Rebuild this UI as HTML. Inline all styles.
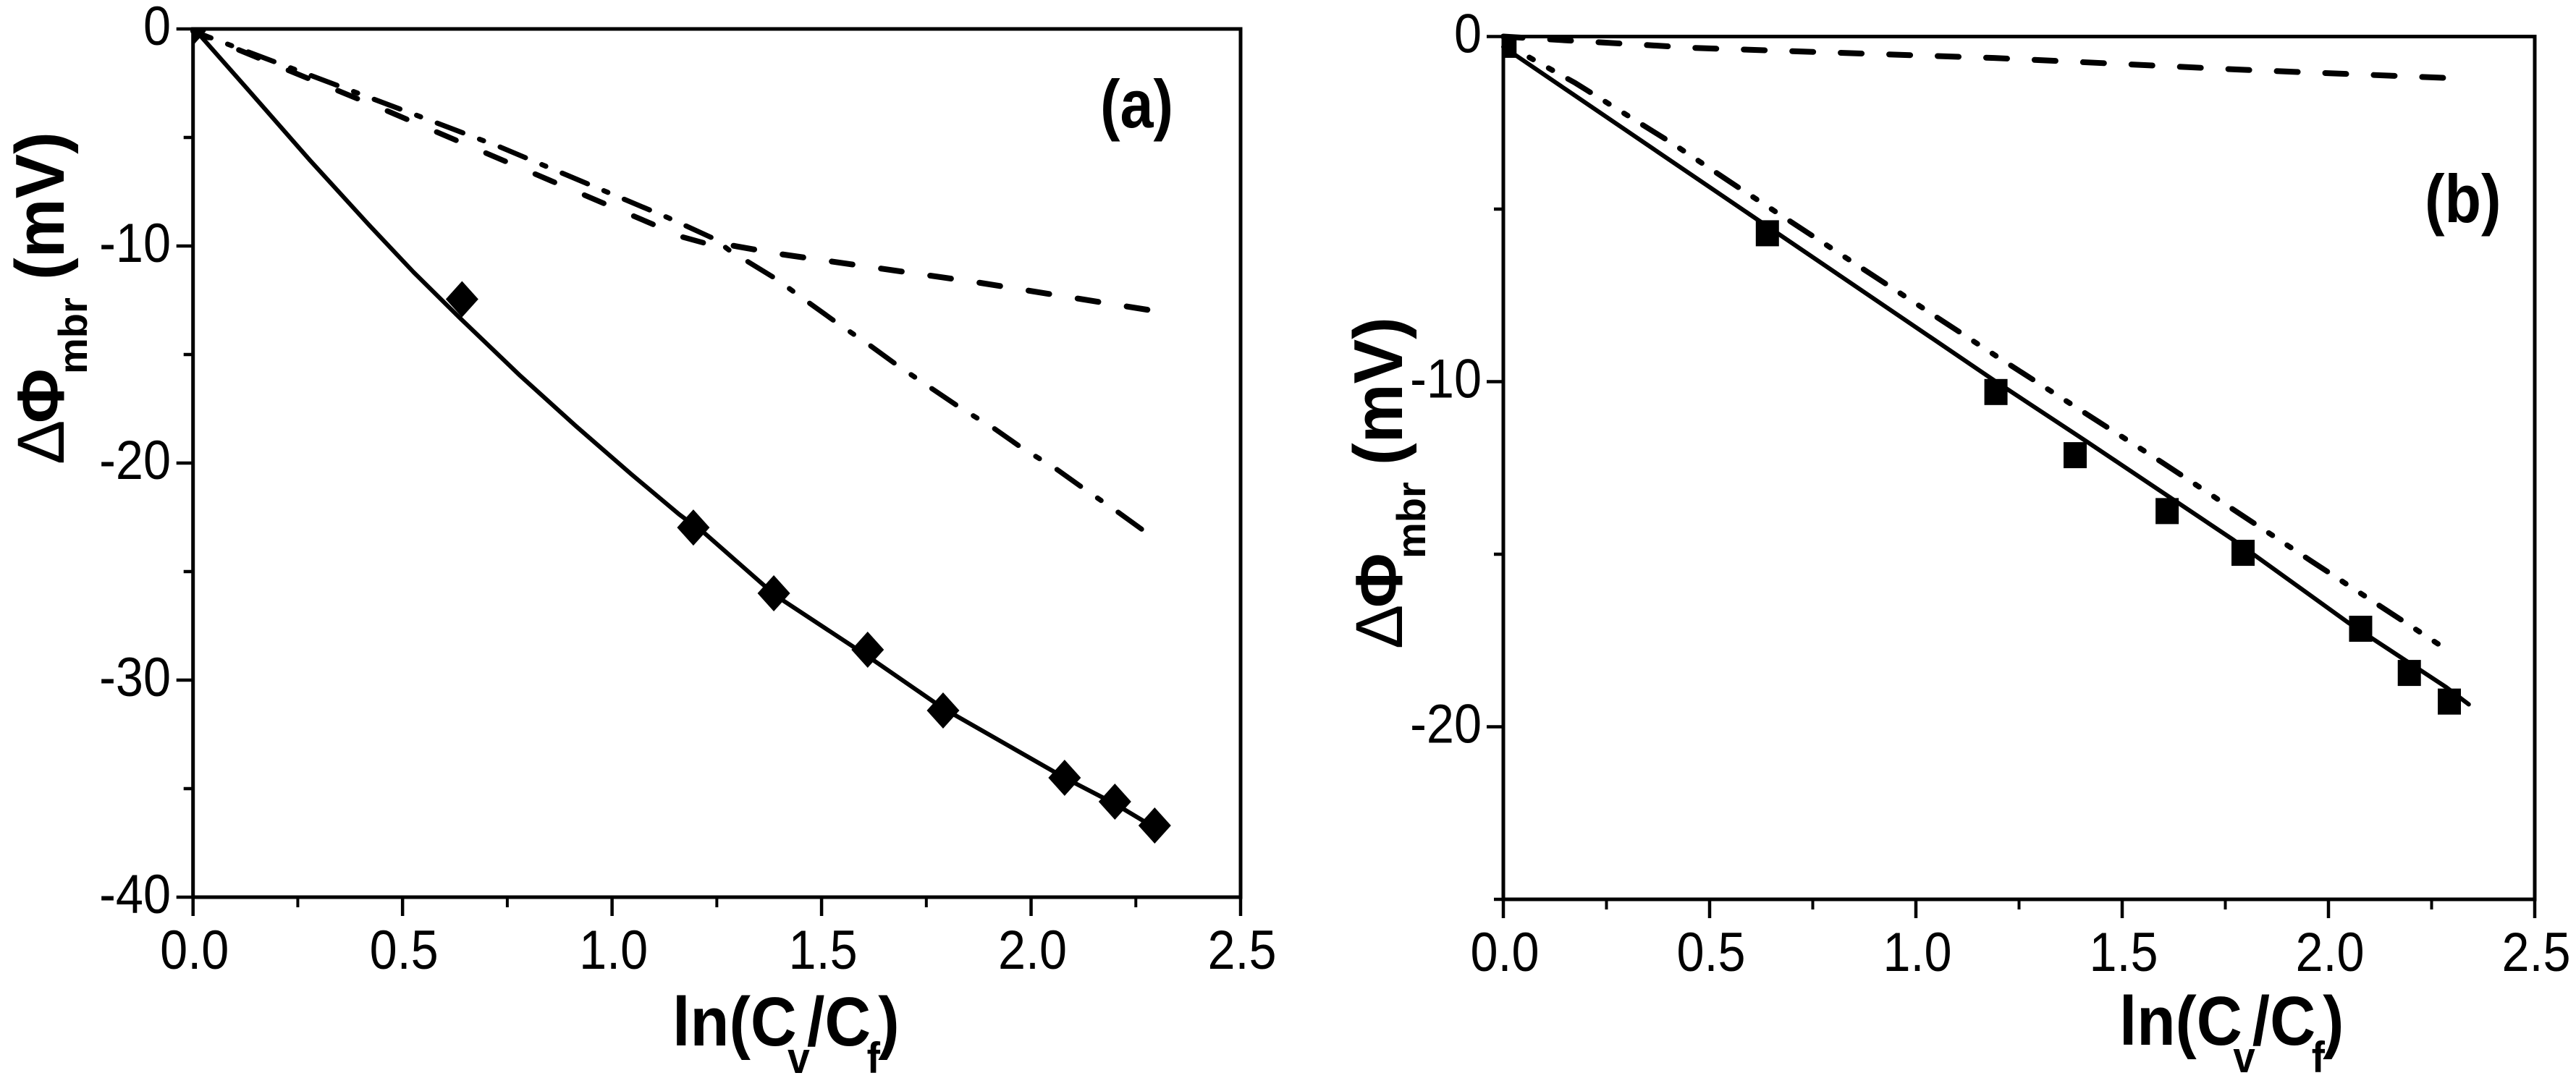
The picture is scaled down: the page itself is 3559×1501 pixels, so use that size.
<!DOCTYPE html>
<html>
<head>
<meta charset="utf-8">
<title>Membrane potential charts</title>
<style>
html,body{margin:0;padding:0;background:#fff;width:3559px;height:1501px;overflow:hidden}
svg{display:block}
text{font-family:"Liberation Sans",Arial,sans-serif;fill:#000}
</style>
</head>
<body>
<svg id="figure" xmlns="http://www.w3.org/2000/svg" width="3559" height="1501" viewBox="0 0 3559 1501">
  <rect width="3559" height="1501" fill="#fff"/>
  <g id="panel-a"></g>
  <g id="panel-b"></g>

  <text transform="translate(929,1445) scale(0.92,1)" font-size="96" font-weight="bold">ln(C<tspan font-size="60" x="173" dy="38">v</tspan><tspan x="202" dy="-38">/C</tspan><tspan font-size="60" x="292" dy="38">f</tspan><tspan x="309" dy="-38">)</tspan></text>
  <g>
    <text transform="translate(88,642) rotate(-90)" font-size="92">Δ</text>
    <text transform="translate(88,585) rotate(-90)" font-size="92" font-weight="bold">Φ</text>
    <text transform="translate(120,517) rotate(-90)" font-size="56" font-weight="bold">mbr</text>
    <text transform="translate(88,387) rotate(-90) scale(0.96,1)" font-size="96" font-weight="bold">(mV)</text>
  </g>
  <text transform="translate(1520,176) scale(0.88,1)" font-size="94" font-weight="bold">(a)</text>

  <text transform="translate(2928,1444) scale(0.91,1)" font-size="96" font-weight="bold">ln(C<tspan font-size="60" x="173" dy="38">v</tspan><tspan x="202" dy="-38">/C</tspan><tspan font-size="60" x="292" dy="38">f</tspan><tspan x="309" dy="-38">)</tspan></text>
  <g>
    <text transform="translate(1937,897) rotate(-90)" font-size="92">Δ</text>
    <text transform="translate(1937,840) rotate(-90)" font-size="92" font-weight="bold">Φ</text>
    <text transform="translate(1969,772) rotate(-90)" font-size="56" font-weight="bold">mbr</text>
    <text transform="translate(1937,643) rotate(-90) scale(0.96,1)" font-size="96" font-weight="bold">(mV)</text>
  </g>
  <text transform="translate(3350,307) scale(0.88,1)" font-size="94" font-weight="bold">(b)</text>
</svg>
<script>
const xTickValues = [0, 0.5, 1, 1.5, 2, 2.5];
const xTickLabels = ['0.0', '0.5', '1.0', '1.5', '2.0', '2.5'];
const xMinorValues = [0.25, 0.75, 1.25, 1.75, 2.25];

const aYTickValues = [0, -10, -20, -30, -40];
const aYTickLabels = ['0', '-10', '-20', '-30', '-40'];
const aYMinorValues = [-5, -15, -25, -35];
const aPointX = [-0.008, 0.642, 1.194, 1.386, 1.61, 1.79, 2.08, 2.2, 2.295];
const aPointY = [-0.1, -12.45, -22.97, -26, -28.6, -31.4, -34.5, -35.6, -36.7];
const aSolidX = [0.017, 0.129, 0.279, 0.42, 0.526, 0.636, 0.781, 0.914, 1.045, 1.16, 1.222, 1.39, 1.61, 1.79, 2.08, 2.2, 2.295];
const aSolidY = [-0.3, -2.75, -6.05, -9.03, -11.2, -13.3, -15.98, -18.3, -20.5, -22.36, -23.25, -26.1, -28.9, -31.3, -34.5, -35.7, -36.8];
const aDashDotHeadX = [0, 0.5435, 0.733, 1.134, 1.244, 1.28];
const aDashDotHeadY = [-0.1, -4.05, -5.44, -8.7, -9.67, -10.2];
const aDashDotTailX = [1.324, 1.39, 1.471, 1.536, 1.617, 1.686, 1.764, 1.833, 1.91, 1.98, 2.057, 2.126, 2.203, 2.277];
const aDashDotTailY = [-10.72, -11.5, -12.63, -13.53, -14.6, -15.57, -16.58, -17.48, -18.38, -19.33, -20.23, -21.18, -22.2, -23.23];
const aDashedHeadX = [0, 0.464, 1.169, 1.231];
const aDashedHeadY = [-0.1, -3.78, -9.59, -9.92];
const aDashedTailX = [1.29, 1.404, 1.873, 2.288];
const aDashedTailY = [-9.99, -10.38, -11.68, -12.97];

const bYTickValues = [0, -10, -20];
const bYTickLabels = ['0', '-10', '-20'];
const bYMinorValues = [-5, -15, -25];
const bPointX = [0.004, 0.64, 1.194, 1.386, 1.609, 1.793, 2.078, 2.196, 2.293];
const bPointY = [-0.24, -5.7, -10.3, -12.13, -13.75, -14.96, -17.16, -18.44, -19.27];
const bSolidX = [0, 0.64, 1.194, 1.412, 1.77, 2.05, 2.285, 2.34];
const bSolidY = [-0.3, -5.5, -10, -11.72, -14.59, -17, -18.85, -19.35];
const bDashDotX = [0.04, 0.175, 0.409, 0.567, 1.2, 1.598, 1.956, 2.285];
const bDashDotY = [-0.45, -1.35, -3.09, -4.35, -9.3, -12.35, -15.18, -17.75];
const bDashedX = [0, 0.11, 0.464, 1.19, 1.787, 2.285];
const bDashedY = [0, -0.08, -0.33, -0.62, -0.96, -1.2];

const NS = 'http://www.w3.org/2000/svg';

function makeEl(parent, tag, attrs) {
  const el = document.createElementNS(NS, tag);
  for (const k in attrs) el.setAttribute(k, attrs[k]);
  parent.appendChild(el);
  return el;
}

function linear(d0, d1, r0, r1) {
  return function (v) { return r0 + (v - d0) * (r1 - r0) / (d1 - d0); };
}

function drawAxes(g, box, xs, ys, yTicks, yLabels, yMinor, labelRight) {
  const frame = makeEl(g, 'rect', {x: box.left, y: box.top, width: box.right - box.left, height: box.bottom - box.top, fill: 'none', stroke: '#000', 'stroke-width': 5});
  
  

  xTickValues.forEach(function (v, i) {
    const tick = makeEl(g, 'line', {x1: xs(v), x2: xs(v), y1: box.bottom, y2: box.bottom + 26, stroke: '#000', 'stroke-width': 4.5});
    
    
    const label = makeEl(g, 'text', {transform: 'translate(' + (xs(v) + 2) + ',' + (box.bottom + 99) + ') scale(0.9,1)', 'font-size': 76, 'text-anchor': 'middle'});
    label.textContent = xTickLabels[i];
    
    
  });
  xMinorValues.forEach(function (v) {
    const tick = makeEl(g, 'line', {x1: xs(v), x2: xs(v), y1: box.bottom, y2: box.bottom + 14, stroke: '#000', 'stroke-width': 4});
    
    
  });
  yTicks.forEach(function (v, i) {
    const tick = makeEl(g, 'line', {x1: box.left - 23, x2: box.left, y1: ys(v), y2: ys(v), stroke: '#000', 'stroke-width': 4.5});
    
    
    const label = makeEl(g, 'text', {transform: 'translate(' + labelRight + ',' + (ys(v) + 22) + ') scale(0.9,1)', 'font-size': 76, 'text-anchor': 'end'});
    label.textContent = yLabels[i];
    
    
  });
  yMinor.forEach(function (v) {
    const tick = makeEl(g, 'line', {x1: box.left - 13, x2: box.left, y1: ys(v), y2: ys(v), stroke: '#000', 'stroke-width': 4.5});
    
    
  });
}

function pathFrom(xArr, yArr, xs, ys) {
  return xArr.map(function (v, i) { return (i ? 'L' : 'M') + xs(v).toFixed(1) + ' ' + ys(yArr[i]).toFixed(1); }).join(' ');
}

function drawLine(g, xArr, yArr, xs, ys, width, dash, offset) {
  const attrs = {d: pathFrom(xArr, yArr, xs, ys), fill: 'none', stroke: '#000', 'stroke-width': width, 'stroke-linejoin': 'round', 'stroke-linecap': 'round'};
  if (dash) {
    attrs['stroke-dasharray'] = dash;
    attrs['stroke-dashoffset'] = offset || 0;
  }
  return makeEl(g, 'path', attrs);
}

function clipGroup(g, id, box) {
  const clip = makeEl(g, 'clipPath', {id: id});
  makeEl(clip, 'rect', {x: box.left, y: box.top, width: box.right - box.left, height: box.bottom - box.top});
  return makeEl(g, 'g', {'clip-path': 'url(#' + id + ')'});
}

/* Panel (a) */
const aBox = {left: 266.7, right: 1714, top: 40, bottom: 1240};
const aX = linear(0, 2.5, aBox.left, aBox.right);
const aY = linear(0, -40, aBox.top, aBox.bottom);
const aGroup = document.getElementById('panel-a');
drawAxes(aGroup, aBox, aX, aY, aYTickValues, aYTickLabels, aYMinorValues, 236);

const aSolid = drawLine(aGroup, aSolidX, aSolidY, aX, aY, 6);


const aDashDotHead = drawLine(aGroup, aDashDotHeadX, aDashDotHeadY, aX, aY, 7, '38 24.5 6 24.5', 11.5);


const aDashDotTail = drawLine(aGroup, aDashDotTailX, aDashDotTailY, aX, aY, 7, '40 28.5 6 28.5', 0);


const aDashedHead = drawLine(aGroup, aDashedHeadX, aDashedHeadY, aX, aY, 7.5, '29 45', 5.6);


const aDashedTail = drawLine(aGroup, aDashedTailX, aDashedTailY, aX, aY, 8, '29 39.7', 0);



const aMarkers = clipGroup(aGroup, 'clip-a', aBox);


aPointX.forEach(function (v, i) {
  const cx = aX(v), cy = aY(aPointY[i]);
  const diamond = makeEl(aMarkers, 'polygon', {points: [cx, cy - 25, cx + 22.5, cy, cx, cy + 25, cx - 22.5, cy].join(' '), fill: '#000'});
  
  
});

/* Panel (b) */
const bBox = {left: 2077, right: 3502, top: 50.5, bottom: 1243};
const bX = linear(0, 2.5, bBox.left, bBox.right);
const bY = linear(0, -25, bBox.top, bBox.bottom);
const bGroup = document.getElementById('panel-b');
drawAxes(bGroup, bBox, bX, bY, bYTickValues, bYTickLabels, bYMinorValues, 2047);

const bSolid = drawLine(bGroup, bSolidX, bSolidY, bX, bY, 6);


const bDashDot = drawLine(bGroup, bDashDotX, bDashDotY, bX, bY, 7.5, '36 24.5 6 24.5 6 24.5', 45.5);


const bDashed = drawLine(bGroup, bDashedX, bDashedY, bX, bY, 8, '29 38', 2.3);



const bMarkers = clipGroup(bGroup, 'clip-b', bBox);


bPointX.forEach(function (v, i) {
  const cx = bX(v), cy = bY(bPointY[i]);
  const square = makeEl(bMarkers, 'rect', {x: cx - 16, y: cy - 18, width: 32, height: 36, fill: '#000'});
  
  
});
</script>
</body>
</html>
